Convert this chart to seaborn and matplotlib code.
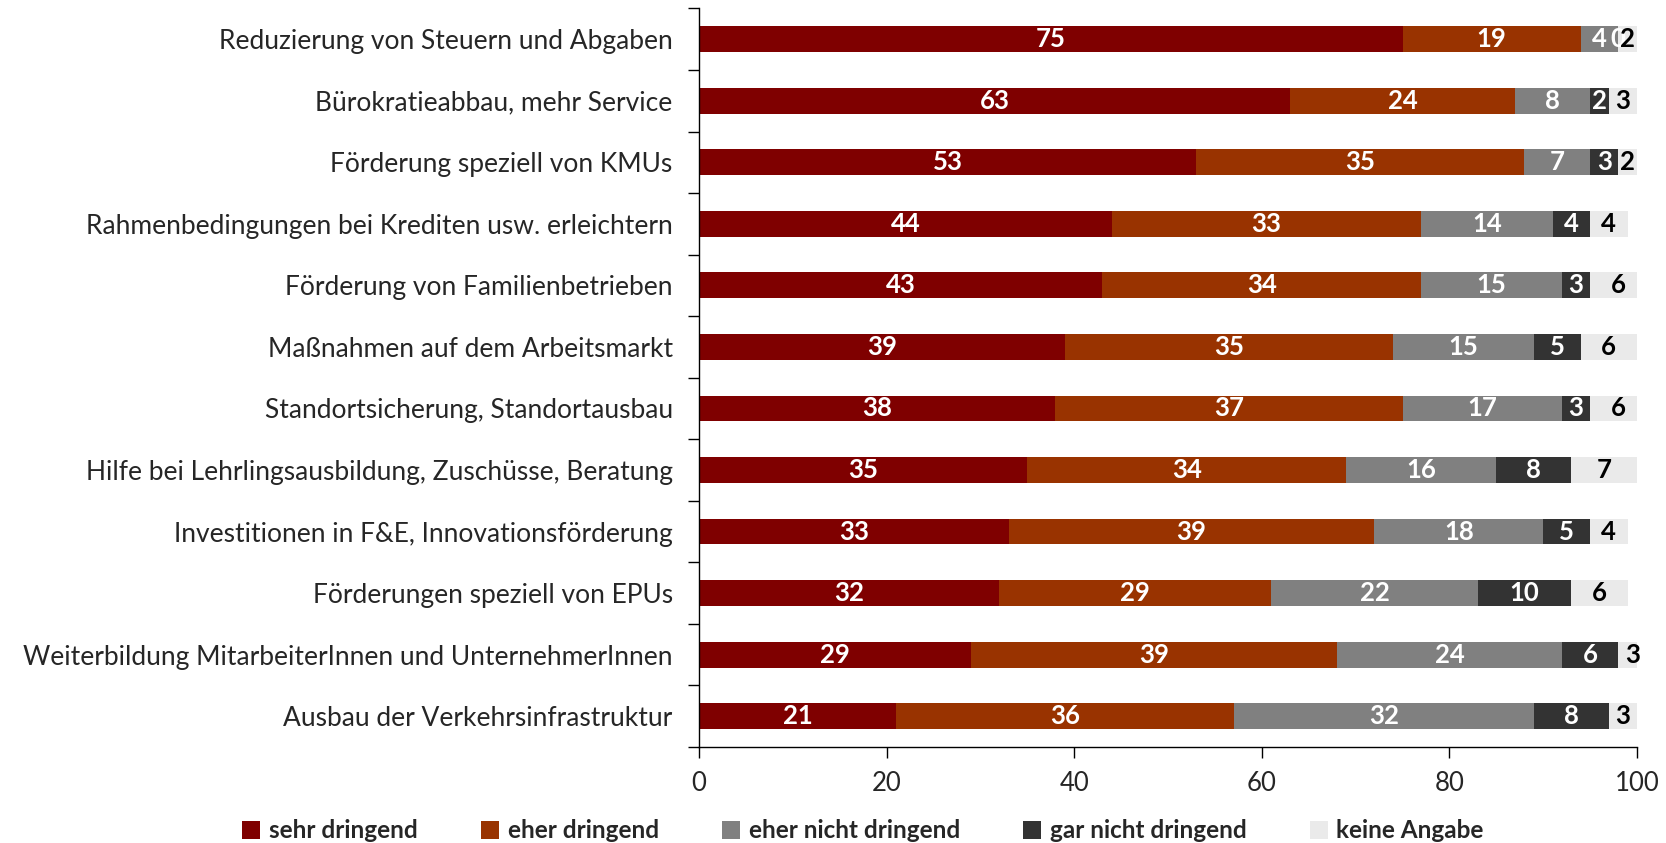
import matplotlib
matplotlib.use("Agg")
import matplotlib.pyplot as plt
import numpy as np
import pandas as pd
import seaborn as sns
from matplotlib.patches import Patch
from matplotlib.ticker import FixedLocator

# -- Data ----------------------------------------------------------------------
categories = [
    "Reduzierung von Steuern und Abgaben",
    "Bürokratieabbau, mehr Service",
    "Förderung speziell von KMUs",
    "Rahmenbedingungen bei Krediten usw. erleichtern",
    "Förderung von Familienbetrieben",
    "Maßnahmen auf dem Arbeitsmarkt",
    "Standortsicherung, Standortausbau",
    "Hilfe bei Lehrlingsausbildung, Zuschüsse, Beratung",
    "Investitionen in F&E, Innovationsförderung",
    "Förderungen speziell von EPUs",
    "Weiterbildung MitarbeiterInnen und UnternehmerInnen",
    "Ausbau der Verkehrsinfrastruktur",
]
sehr_dringend = [75, 63, 53, 44, 43, 39, 38, 35, 33, 32, 29, 21]
eher_dringend = [19, 24, 35, 33, 34, 35, 37, 34, 39, 29, 39, 36]
eher_nicht_dringend = [4, 8, 7, 14, 15, 15, 17, 16, 18, 22, 24, 32]
gar_nicht_dringend = [0, 2, 3, 4, 3, 5, 3, 8, 5, 10, 6, 8]
keine_angabe = [2, 3, 2, 4, 6, 6, 6, 7, 4, 6, 3, 3]

series_names = ["sehr dringend", "eher dringend", "eher nicht dringend",
                "gar nicht dringend", "keine Angabe"]
series_values = [sehr_dringend, eher_dringend, eher_nicht_dringend,
                 gar_nicht_dringend, keine_angabe]
colors = ["#7F0000", "#993300", "#808080", "#333333", "#EAEAEA"]
label_colors = ["white", "white", "white", "white", "black"]
x_ticks = [0, 20, 40, 60, 80, 100]

sns.set_theme(style="white")
plt.rcParams["font.family"] = ["Lato", "DejaVu Sans"]

df = pd.DataFrame(dict(zip(series_names, series_values)), index=categories)
cum = df.cumsum(axis=1)

fig = plt.figure(figsize=(16.66, 8.43), dpi=100)
ax = fig.add_axes([0.4196, 0.114, 0.563, 0.876])

# draw cumulative bars from the longest to the shortest so they stack
for name, color in reversed(list(zip(series_names, colors))):
    sns.barplot(x=cum[name].values, y=categories, orient="h", color=color,
                saturation=1, width=0.42, errorbar=None, ax=ax, linewidth=0)

# segment labels
for name, tcolor in zip(series_names, label_colors):
    centers = cum[name] - df[name] / 2
    for i, (c, v) in enumerate(zip(centers, df[name])):
        ax.text(c, i, f"{v}", ha="center", va="center", color=tcolor,
                fontsize=18.5, fontweight="bold")

ax.set_xlim(0, 100)
ax.set_ylim(len(categories) - 0.5, -0.5)
ax.set_xticks(x_ticks)
ax.set_xticklabels([str(t) for t in x_ticks], fontsize=18.5)
ax.set_yticks(range(len(categories)))
ax.set_yticklabels(categories, fontsize=19)
ax.set_xlabel("")
ax.set_ylabel("")

ax.tick_params(axis="y", which="major", length=0, pad=19)
ax.yaxis.set_minor_locator(FixedLocator(np.arange(-0.5, len(categories), 1)))
ax.tick_params(axis="y", which="minor", length=8, width=1, color="black", left=True)
ax.tick_params(axis="x", which="major", length=8, width=1, color="black",
               bottom=True, direction="out", pad=9)

for side in ["top", "right"]:
    ax.spines[side].set_visible(False)
for side in ["left", "bottom"]:
    ax.spines[side].set_color("black")
    ax.spines[side].set_linewidth(1)

handles = [Patch(facecolor=c, edgecolor="none", label=n)
           for n, c in zip(series_names, colors)]
leg = fig.legend(handles=handles, loc="lower center", bbox_to_anchor=(0.518, -0.025),
                 ncol=5, frameon=False, handlelength=0.75, handleheight=0.75,
                 handletextpad=0.35, columnspacing=2.6,
                 prop={"size": 17.5, "weight": "bold"})

fig.savefig("out.png", dpi=100)
